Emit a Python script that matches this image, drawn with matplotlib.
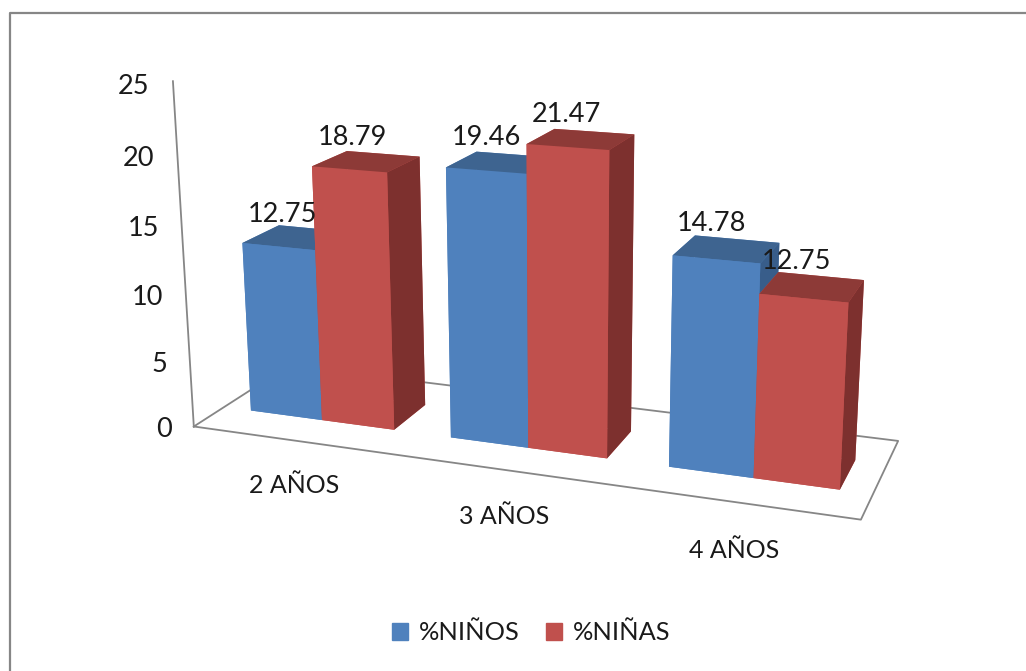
import matplotlib
matplotlib.use('Agg')
import matplotlib.pyplot as plt
from matplotlib.lines import Line2D
from matplotlib.patches import Patch

categories = ['2 AÑOS', '3 AÑOS', '4 AÑOS']
ninos = [12.75, 19.46, 14.78]
ninas = [18.79, 21.47, 12.75]
z_ticks = [0, 5, 10, 15, 20, 25]

plt.rcParams['font.family'] = ['Lato', 'DejaVu Sans']
text_color = '#1a1a1a'
line_color = '#868686'

fig = plt.figure(figsize=(10.26, 6.71), dpi=100)
ax = fig.add_axes([136.6/1026, 3/671, 787.3/1026, 787.3/671], projection='3d')
ax.set_axis_off()
ax.computed_zorder = False
ax.patch.set_alpha(0)
ax.set_xlim(0, 3)
ax.set_ylim(0, 1)
ax.set_zlim(0, 25)
ax.set_box_aspect((3.356, 1, 1.751))
ax.view_init(15.64, -69.63, 0.2)
ax.set_proj_type('persp', focal_length=0.412)

# floor and the vertical axis line
ax.plot([0, 3, 3, 0, 0], [0, 0, 1, 1, 0], [0, 0, 0, 0, 0], color=line_color, lw=1.3, zorder=1)
ax.plot([0, 0], [0, 0], [0, 25], color=line_color, lw=1.3, zorder=1)

blue_w = 0.365
red_w = 0.36
bar_y = 0.30
bar_d = 0.38

# bottom, top, front, back, left, right
blue_faces = ['#4f81bd', '#3e6490', '#4f81bd', '#4f81bd', '#4f81bd', '#385d8a']
red_faces = ['#c0504d', '#8d3a37', '#c0504d', '#c0504d', '#c0504d', '#7d302e']

z = 2
for i in range(len(categories)):
    x0 = i + 0.14
    ax.bar3d(x0, bar_y, 0, blue_w, bar_d, ninos[i], color=blue_faces, shade=False, linewidth=0, zorder=z)
    ax.bar3d(x0 + blue_w, bar_y, 0, red_w, bar_d, ninas[i], color=red_faces, shade=False, linewidth=0, zorder=z + 1)
    z += 2

# labels are drawn on top of everything
for i in range(len(categories)):
    x0 = i + 0.14
    ax.text(x0 + blue_w/2 - 0.07, 0.5, ninos[i] + 1.6, f'{ninos[i]:.2f}', ha='center', va='center',
            fontsize=19.5, color=text_color, zorder=20)
    ax.text(x0 + blue_w + red_w/2 - 0.07, 0.5, ninas[i] + 1.6, f'{ninas[i]:.2f}', ha='center', va='center',
            fontsize=19.5, color=text_color, zorder=20)
    ax.text(i + 0.495, 0, -3.4, categories[i], ha='center', va='center',
            fontsize=18, color=text_color, zorder=20)

for t in z_ticks:
    ax.text(-0.117, 0, t - 0.5, str(t), ha='right', va='center', fontsize=19.5, color=text_color, zorder=20)

# chart area border, only top and left reach inside the picture
fig.add_artist(Line2D([9.5/1026, 9.5/1026, 1], [0, 1 - 12.5/671, 1 - 12.5/671],
                      color=line_color, lw=1.6, transform=fig.transFigure))

handles = [Patch(color='#4f81bd', label='%NIÑOS'), Patch(color='#c0504d', label='%NIÑAS')]
fig.legend(handles=handles, loc='center', bbox_to_anchor=(531/1026, 1 - 633/671), ncol=2,
           frameon=False, fontsize=18.3, handlelength=0.64, handleheight=0.64,
           handletextpad=0.42, columnspacing=1.05, labelcolor=text_color)

fig.savefig('out.png', dpi=100)
